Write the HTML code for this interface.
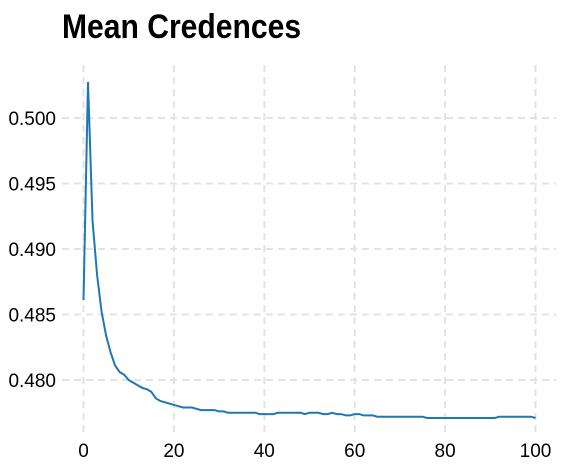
<!DOCTYPE html>
<html><head><meta charset="utf-8"><style>
html,body{margin:0;padding:0;background:#fff}
svg text{font-family:"Liberation Sans Narrow","Liberation Sans",sans-serif}
</style></head><body>
<svg id="chart" width="567" height="469" viewBox="0 0 567 469" xmlns="http://www.w3.org/2000/svg">
<text x="62" y="38" font-size="34" font-weight="bold" fill="#000" transform="translate(62,0) scale(0.885,1) translate(-62,0)">Mean Credences</text>
<g id="grid"></g>
<g id="ticks"></g>
<path id="line" fill="none" stroke="#1f77b4" stroke-width="2"/>
</svg>
<script>
const xTicks=[0,20,40,60,80,100];
const yTicks=[0.480,0.485,0.490,0.495,0.500];
const yTickLabels=["0.480","0.485","0.490","0.495","0.500"];
const steps=Array.from({length:101},(_,i)=>i);
const credences=[0.4861,0.50275,0.4922,0.4880,0.4852,0.4834,0.4821,0.4811,0.4806,0.4804,
0.4800,0.4798,0.4796,0.4794,0.4793,0.4791,0.4786,0.4784,0.4783,0.4782,
0.4781,0.4780,0.4779,0.4779,0.4779,0.4778,0.4777,0.4777,0.4777,0.4777,
0.4776,0.4776,0.4775,0.4775,0.4775,0.4775,0.4775,0.4775,0.4775,0.4774,
0.4774,0.4774,0.4774,0.4775,0.4775,0.4775,0.4775,0.4775,0.4775,0.4774,
0.4775,0.4775,0.4775,0.4774,0.4774,0.4775,0.4774,0.4774,0.4773,0.4773,
0.4774,0.4774,0.4773,0.4773,0.4773,0.4772,0.4772,0.4772,0.4772,0.4772,
0.4772,0.4772,0.4772,0.4772,0.4772,0.4772,0.4771,0.4771,0.4771,0.4771,
0.4771,0.4771,0.4771,0.4771,0.4771,0.4771,0.4771,0.4771,0.4771,0.4771,
0.4771,0.4771,0.4772,0.4772,0.4772,0.4772,0.4772,0.4772,0.4772,0.4772,0.4771];
const X0=83.5,XS=4.52;
const x=v=>X0+v*XS;
const y=v=>118+(0.5-v)*13100;
const ns="http://www.w3.org/2000/svg";
const grid=document.getElementById('grid'),ticks=document.getElementById('ticks');
function mk(tag,attrs,parent){const e=document.createElementNS(ns,tag);for(const k in attrs)e.setAttribute(k,attrs[k]);parent.appendChild(e);return e;}
xTicks.forEach(t=>{
 const l=mk('line',{x1:x(t),x2:x(t),y1:65,y2:435,stroke:'#e3e3e3','stroke-width':2,'stroke-dasharray':'7,5'},grid);
 
 
 const tx=mk('text',{x:x(t),y:457,'font-size':19,'text-anchor':'middle',fill:'#000'},ticks);
 tx.textContent=t;
 
 
});
yTicks.forEach((t,i)=>{
 const l=mk('line',{x1:62,x2:556,y1:y(t),y2:y(t),stroke:'#e3e3e3','stroke-width':2,'stroke-dasharray':'7,5'},grid);
 
 
 const tx=mk('text',{x:56,y:y(t)+7,'font-size':19,'text-anchor':'end',fill:'#000'},ticks);
 tx.textContent=yTickLabels[i];
 
 
});
document.getElementById('line').setAttribute('d',steps.map((s,i)=>(i?'L':'M')+x(s).toFixed(1)+','+y(credences[i]).toFixed(1)).join(''));
</script>
</body></html>
